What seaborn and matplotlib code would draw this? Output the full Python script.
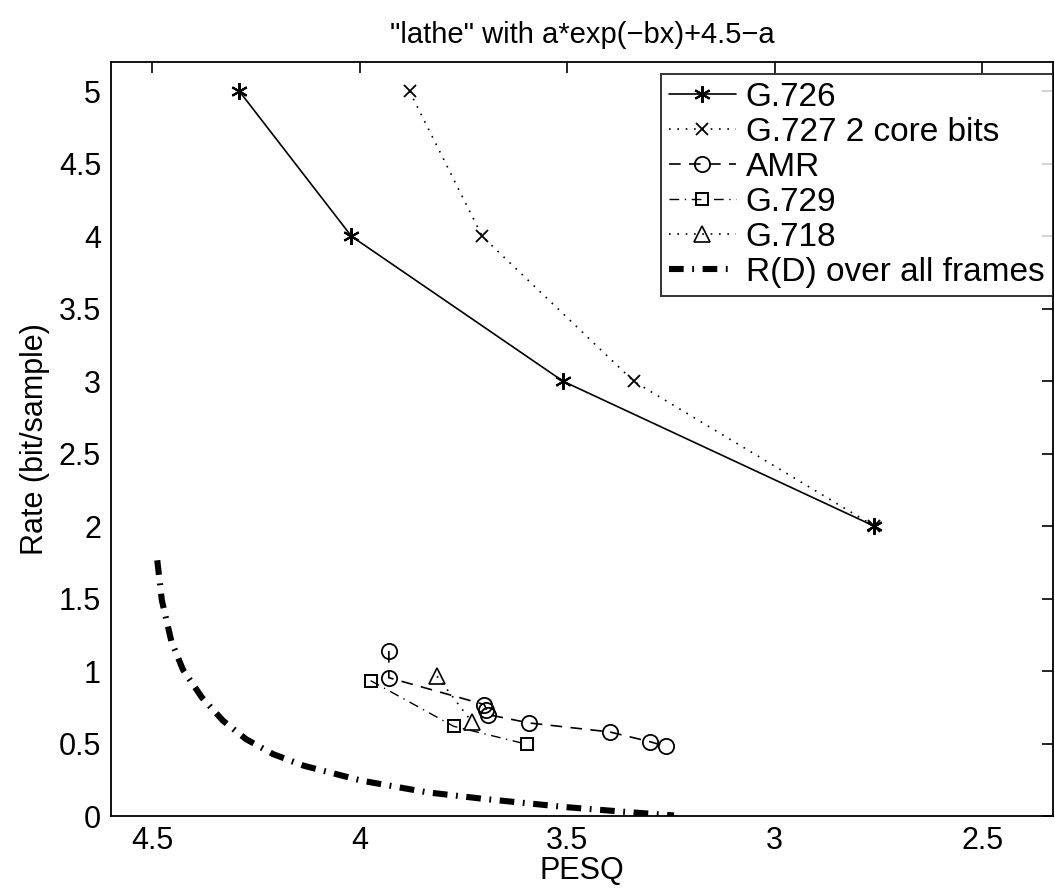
import numpy as np
import pandas as pd
import matplotlib
matplotlib.use("Agg")
import matplotlib.pyplot as plt
import seaborn as sns

sns.set_style("white")
plt.rcParams['font.family'] = ['Liberation Sans', 'DejaVu Sans']
plt.rcParams['text.color'] = 'black'
plt.rcParams['axes.labelcolor'] = 'black'

# G.726
g726_pesq = [4.29, 4.02, 3.51, 2.76]
g726_rate = [5.0, 4.0, 3.0, 2.0]
# G.727 2 core bits
g727_pesq = [3.88, 3.705, 3.34, 2.76]
g727_rate = [5.0, 4.0, 3.0, 2.0]
# AMR
amr_pesq = [3.93, 3.93, 3.70, 3.695, 3.69, 3.592, 3.398, 3.30, 3.262]
amr_rate = [1.14, 0.955, 0.77, 0.735, 0.70, 0.643, 0.581, 0.513, 0.481]
# G.729
g729_pesq = [3.974, 3.774, 3.596]
g729_rate = [0.935, 0.62, 0.495]
# G.718
g718_pesq = [3.814, 3.73]
g718_rate = [0.965, 0.65]
# R(D) over all frames
rd_pesq = [4.488, 4.477, 4.454, 4.426, 4.380, 4.329, 4.274, 4.209, 4.135,
           3.996, 3.839, 3.701, 3.502, 3.349, 3.243]
rd_rate = [1.765, 1.49, 1.206, 1.01, 0.817, 0.657, 0.531, 0.428, 0.348,
           0.245, 0.165, 0.119, 0.062, 0.027, 0.005]

fig = plt.figure(figsize=(10.55, 8.91), dpi=100)
ax = fig.add_axes([0.105, 0.084, 0.893, 0.846])

def draw(px, ry, label, **kw):
    df = pd.DataFrame({'PESQ': px, 'Rate': ry})
    sns.lineplot(data=df, x='PESQ', y='Rate', sort=False, estimator=None,
                 ax=ax, label=label, color='black', markeredgecolor='black', **kw)

draw(g726_pesq, g726_rate, 'G.726', linestyle='-', linewidth=1.2,
     marker=(6, 2, 0), markersize=12, markeredgewidth=1.5)
draw(g727_pesq, g727_rate, 'G.727 2 core bits', linestyle=(0, (1, 4)), linewidth=1.2,
     marker='x', markersize=8, markeredgewidth=1.3)
draw(amr_pesq, amr_rate, 'AMR', linestyle=(0, (7, 5)), linewidth=1.2,
     marker='o', markersize=11, markerfacecolor='none', markeredgewidth=1.3)
draw(g729_pesq, g729_rate, 'G.729', linestyle=(0, (7, 4, 1, 4)), linewidth=1.0,
     marker='s', markersize=9, markerfacecolor='none', markeredgewidth=1.4)
draw(g718_pesq, g718_rate, 'G.718', linestyle=(0, (1, 4)), linewidth=1.2,
     marker='^', markersize=12, markerfacecolor='none', markeredgewidth=1.2)
draw(rd_pesq, rd_rate, 'R(D) over all frames', linestyle=(0, (2.4, 1.4, 0.3, 1.4)),
     linewidth=4.4)

ax.set_xlim(4.6, 2.33)
ax.set_ylim(0, 5.2)
ax.set_xticks([4.5, 4, 3.5, 3, 2.5])
ax.set_xticklabels(['4.5', '4', '3.5', '3', '2.5'])
ax.set_yticks([0, 0.5, 1, 1.5, 2, 2.5, 3, 3.5, 4, 4.5, 5])
ax.set_yticklabels(['0', '0.5', '1', '1.5', '2', '2.5', '3', '3.5', '4', '4.5', '5'])
ax.tick_params(direction='in', length=8, width=1.2, labelsize=22, colors='black',
               top=True, right=True, pad=7)
for s in ax.spines.values():
    s.set_color('black')
    s.set_linewidth(1.3)

ax.set_xlabel('PESQ', fontsize=22, labelpad=0)
ax.set_ylabel('Rate (bit/sample)', fontsize=22, labelpad=6)
ax.set_title('"lathe" with a*exp(\u2212bx)+4.5\u2212a', fontsize=21, pad=14)

leg = ax.legend(loc='upper right', bbox_to_anchor=(1.0, 0.985), fontsize=24,
                frameon=True, fancybox=False, handlelength=2.0, handletextpad=0.3,
                borderpad=0.25, labelspacing=0.12, borderaxespad=0.0)
leg.get_frame().set_edgecolor('black')
leg.get_frame().set_linewidth(1.4)

fig.savefig('out.png', dpi=100)
